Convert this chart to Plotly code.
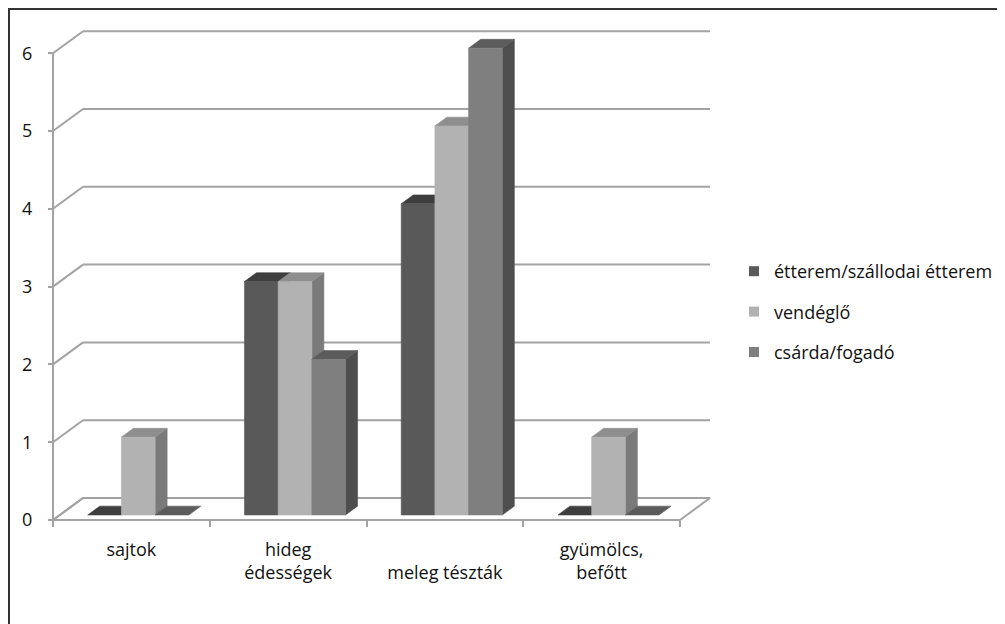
import plotly.graph_objects as go

# ---- data ----
categories = ["sajtok", "hideg édességek", "meleg tészták", "gyümölcs, befőtt"]
tick_labels = ["sajtok", "hideg<br>édességek", "\u00a0<br>meleg tészták", "gyümölcs,<br>befőtt"]
series_names = ["étterem/szállodai étterem", "vendéglő", "csárda/fogadó"]
etterem = [0, 3, 4, 0]
vendeglo = [1, 3, 5, 1]
csarda = [0, 2, 6, 0]
y_ticks = [0, 1, 2, 3, 4, 5, 6]

series_values = [etterem, vendeglo, csarda]
front_colors = ["#595959", "#b2b2b2", "#7f7f7f"]
top_colors = ["#3e3e3e", "#8e8e8e", "#5c5c5c"]
side_colors = ["#3a3a3a", "#7a7a7a", "#4e4e4e"]

# ---- pseudo-3D geometry (data units) ----
DX, DY = 0.1914, 0.2828      # full depth offset
F0, F1 = 0.23, 0.63          # bar depth span
BW = 0.215                   # bar width
GROUP = BW * len(series_values)
YMAX = max(y_ticks)
n = len(categories)
x_lo, x_hi = -0.5, n - 0.5

W, H = 1005, 624
OFF = 8  # page body margin

def P(x, y, f):
    return x + f * DX, y + f * DY

def poly(pts, color):
    xs = [p[0] for p in pts] + [pts[0][0]]
    ys = [p[1] for p in pts] + [pts[0][1]]
    return go.Scatter(x=xs, y=ys, mode="lines", fill="toself", fillcolor=color,
                      line=dict(color=color, width=0.6), hoverinfo="skip",
                      showlegend=False)

fig = go.Figure()

# walls / floor lines
wx, wy = [], []
for v in y_ticks:
    a = P(x_lo, v, 0)
    b = P(x_lo, v, 1)
    wx += [a[0], b[0], None]
    wy += [a[1], b[1], None]
    if v > 0:
        c = P(x_hi, v, 1)
        wx += [b[0], c[0], None]
        wy += [b[1], c[1], None]
fl = [P(x_lo, 0, 0), P(x_hi, 0, 0), P(x_hi, 0, 1), P(x_lo, 0, 1), P(x_lo, 0, 0)]
wx += [p[0] for p in fl] + [None]
wy += [p[1] for p in fl] + [None]
wx += [x_lo, x_lo, None]
wy += [0, YMAX, None]
fig.add_trace(go.Scatter(x=wx, y=wy, mode="lines", line=dict(color="#a3a3a3", width=2),
                         hoverinfo="skip", showlegend=False))

# bars
for i in range(n):
    for k, vals in enumerate(series_values):
        v = vals[i]
        xl = i - GROUP / 2 + k * BW
        xr = xl + BW
        side = [P(xr, 0, F0), P(xr, 0, F1), P(xr, v, F1), P(xr, v, F0)]
        top = [P(xl, v, F0), P(xr, v, F0), P(xr, v, F1), P(xl, v, F1)]
        front = [P(xl, 0, F0), P(xr, 0, F0), P(xr, v, F0), P(xl, v, F0)]
        if v > 0:
            fig.add_trace(poly(side, side_colors[k]))
        fig.add_trace(poly(top, top_colors[k]))
        if v > 0:
            fig.add_trace(poly(front, front_colors[k]))

# legend entries
for k, name in enumerate(series_names):
    fig.add_trace(go.Scatter(x=[None], y=[None], mode="markers", name=name,
                             legendgroup=name,
                             marker=dict(symbol="square", size=10, color=front_colors[k])))

FONT = "Open Sans"
TXT = "#111111"
fig.update_layout(
    width=W, height=H,
    margin=dict(l=0, r=0, t=0, b=0),
    paper_bgcolor="white", plot_bgcolor="rgba(0,0,0,0)",
    font=dict(family=FONT, size=18, color=TXT),
    showlegend=True,
    legend=dict(x=(734 - OFF) / W, xanchor="left", y=1 - (312 - OFF) / H, yanchor="middle",
                tracegroupgap=14, font=dict(family=FONT, size=18, color=TXT),
                bgcolor="rgba(0,0,0,0)"),
    xaxis=dict(domain=[(40 - OFF) / W, (720 - OFF) / W], range=[-0.5829, 3.7552],
               anchor="free", position=(H - (520 - OFF)) / H,
               showgrid=False, zeroline=False, showline=False,
               tickmode="array", tickvals=list(range(n)), ticktext=tick_labels,
               ticks="", ticklabelstandoff=17,
               tickfont=dict(family=FONT, size=18, color=TXT),
               minor=dict(tickmode="array", tickvals=[x_lo + j for j in range(n + 1)],
                          ticks="outside", ticklen=6, tickcolor="#a3a3a3", tickwidth=1.5,
                          showgrid=False)),
    yaxis=dict(domain=[(H - (530 - OFF)) / H, (H - (20 - OFF)) / H], range=[-0.1285, 6.4267],
               anchor="free", position=(53 - OFF) / W,
               showgrid=False, zeroline=False, showline=False,
               tickmode="array", tickvals=y_ticks, ticks="outside", ticklen=5,
               tickcolor="#a3a3a3", tickwidth=1.5, ticklabelstandoff=12,
               tickfont=dict(family=FONT, size=18, color=TXT)),
    shapes=[dict(type="rect", xref="paper", yref="paper", x0=1 / W, x1=1.02,
                 y0=-0.02, y1=1 - 1 / H, line=dict(color="#333333", width=2))],
)

fig.write_html("out.html")
